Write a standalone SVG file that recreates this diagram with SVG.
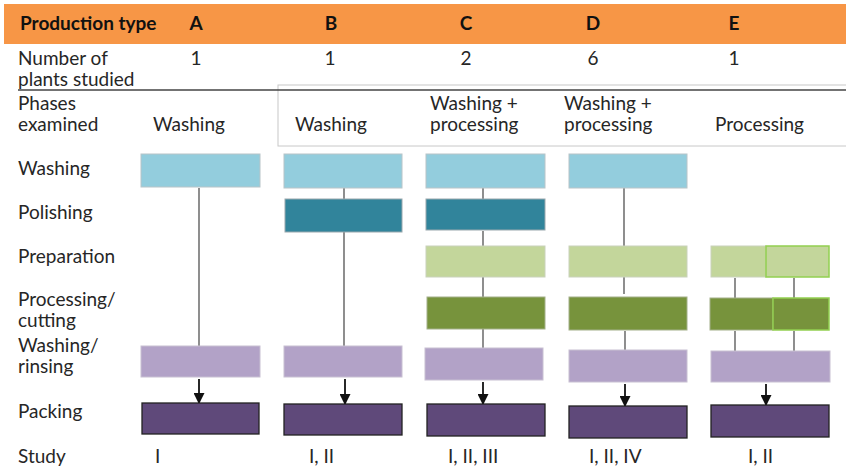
<svg xmlns="http://www.w3.org/2000/svg" width="846" height="470" viewBox="0 0 846 470">
<defs>
<style>
text{font-family:Lato,"Liberation Sans",sans-serif;font-size:19px;fill:#262626}
.hd{font-weight:bold;fill:#111}
.c{text-anchor:middle}
.wash{fill:#93CDDD;stroke:#b8c4c8;stroke-width:1}
.pol{fill:#31849B;stroke:#9aa8ad;stroke-width:1}
.prep{fill:#C3D69B;stroke:#c9d2bb;stroke-width:1}
.proc{fill:#77933C;stroke:#a4b08a;stroke-width:1}
.rin{fill:#B2A2C7;stroke:#c8c0d2;stroke-width:1}
.pack{fill:#5F497A;stroke:#222;stroke-width:1.3}
.hi{stroke:#92D050;stroke-width:1.5}
.ln{stroke:#444;stroke-width:1.2;fill:none}
.ar{stroke:#111;stroke-width:1.8;fill:none;marker-end:url(#ah)}
</style>
<marker id="ah" viewBox="0 0 10 10" refX="9" refY="5" markerUnits="userSpaceOnUse" markerWidth="11" markerHeight="11" orient="auto">
<path d="M0,0L10,5L0,10z" fill="#111"/>
</marker>
</defs>

<g id="header">
<rect x="4" y="4" width="842" height="40" fill="#F79646"/>
<text class="hd" x="20" y="30">Production type</text>
<text class="hd c" x="196" y="30">A</text>
<text class="hd c" x="331" y="30">B</text>
<text class="hd c" x="466" y="30">C</text>
<text class="hd c" x="593" y="30">D</text>
<text class="hd c" x="734" y="30">E</text>
</g>

<g id="plants">
<text x="18" y="65">Number of</text>
<text x="18" y="86">plants studied</text>
<text class="c" x="196" y="65">1</text>
<text class="c" x="330" y="65">1</text>
<text class="c" x="466" y="65">2</text>
<text class="c" x="593" y="65">6</text>
<text class="c" x="734" y="65">1</text>
</g>

<g id="frame">
<rect x="278" y="85" width="575" height="61" fill="none" stroke="#c8c8c8" stroke-width="1"/>
<line x1="18" y1="90" x2="846" y2="90" stroke="#444" stroke-width="1.3"/>
</g>

<g id="phases">
<text x="18" y="110">Phases</text>
<text x="18" y="131">examined</text>
<text x="153" y="131">Washing</text>
<text x="295" y="131">Washing</text>
<text x="430" y="110">Washing +</text>
<text x="430" y="131">processing</text>
<text x="564" y="110">Washing +</text>
<text x="564" y="131">processing</text>
<text x="715" y="131">Processing</text>
</g>

<g id="row-labels">
<text x="18" y="175">Washing</text>
<text x="18" y="219">Polishing</text>
<text x="18" y="263">Preparation</text>
<text x="18" y="306">Processing/</text>
<text x="18" y="327">cutting</text>
<text x="18" y="352">Washing/</text>
<text x="18" y="373">rinsing</text>
<text x="18" y="418">Packing</text>
<text x="18" y="463">Study</text>
</g>

<g id="connectors">
<line class="ln" x1="199" y1="188" x2="199" y2="346"/>
<line class="ln" x1="344" y1="188" x2="344" y2="199"/>
<line class="ln" x1="344" y1="232" x2="344" y2="346"/>
<line class="ln" x1="483" y1="188" x2="483" y2="199"/>
<line class="ln" x1="483" y1="231" x2="483" y2="246"/>
<line class="ln" x1="483" y1="277" x2="483" y2="297"/>
<line class="ln" x1="483" y1="329" x2="483" y2="348"/>
<line class="ln" x1="624" y1="188" x2="624" y2="246"/>
<line class="ln" x1="624" y1="277" x2="624" y2="294"/>
<line class="ln" x1="625" y1="331" x2="625" y2="350"/>
<line class="ln" x1="735" y1="278" x2="735" y2="298"/>
<line class="ln" x1="794" y1="278" x2="794" y2="298"/>
<line class="ln" x1="735" y1="331" x2="735" y2="351"/>
<line class="ln" x1="794" y1="331" x2="794" y2="351"/>
<line class="ar" x1="199" y1="379" x2="199" y2="403"/>
<line class="ar" x1="345" y1="379" x2="345" y2="404"/>
<line class="ar" x1="483" y1="382" x2="483" y2="404"/>
<line class="ar" x1="625" y1="384" x2="625" y2="406"/>
<line class="ar" x1="766" y1="384" x2="766" y2="405"/>
</g>

<g id="col-A">
<rect class="wash" x="141" y="154" width="119" height="33"/>
<rect class="rin" x="141" y="346" width="119" height="31"/>
<rect class="pack" x="142" y="403" width="117" height="31"/>
<text x="155" y="463">I</text>
</g>

<g id="col-B">
<rect class="wash" x="284" y="154" width="118" height="34"/>
<rect class="pol" x="285" y="199" width="117" height="33"/>
<rect class="rin" x="284" y="346" width="118" height="31"/>
<rect class="pack" x="284" y="404" width="118" height="31"/>
<text x="309" y="463">I, II</text>
</g>

<g id="col-C">
<rect class="wash" x="426" y="154" width="119" height="34"/>
<rect class="pol" x="426" y="199" width="119" height="31"/>
<rect class="prep" x="426" y="246" width="119" height="31"/>
<rect class="proc" x="427" y="297" width="118" height="32"/>
<rect class="rin" x="425" y="348" width="118" height="32"/>
<rect class="pack" x="427" y="404" width="118" height="32"/>
<text x="448" y="463">I, II, III</text>
</g>

<g id="col-D">
<rect class="wash" x="569" y="154" width="118" height="34"/>
<rect class="prep" x="569" y="246" width="118" height="31"/>
<rect class="proc" x="569" y="297" width="118" height="33"/>
<rect class="rin" x="569" y="350" width="118" height="32"/>
<rect class="pack" x="569" y="406" width="118" height="32"/>
<text x="589" y="463">I, II, IV</text>
</g>

<g id="col-E">
<rect class="prep" x="711" y="246" width="55" height="31"/>
<rect class="prep hi" x="766" y="246" width="63" height="31"/>
<rect class="proc" x="710" y="298" width="63" height="32"/>
<rect class="proc hi" x="773" y="298" width="56" height="32"/>
<rect class="rin" x="711" y="351" width="119" height="31"/>
<rect class="pack" x="711" y="405" width="118" height="32"/>
<text x="748" y="463">I, II</text>
</g>
</svg>
